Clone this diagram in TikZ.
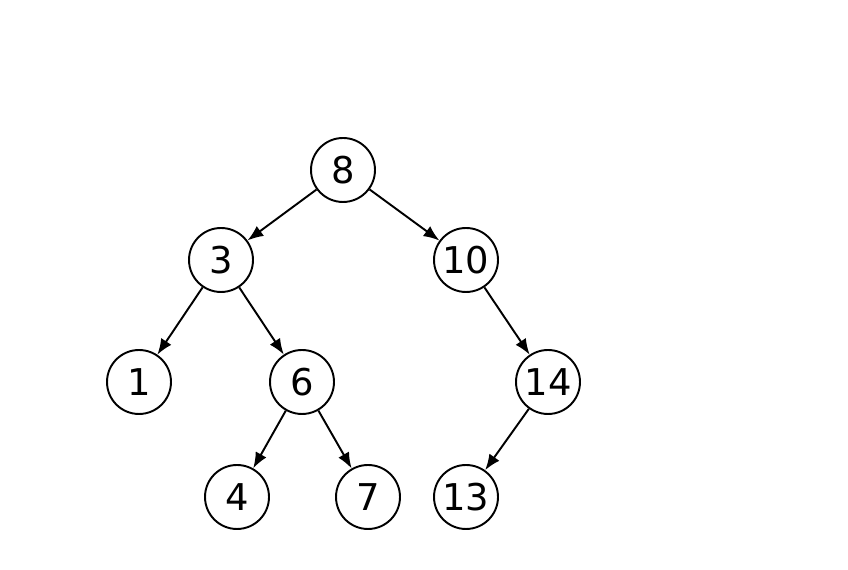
\documentclass[tikz,border=0pt]{standalone}
\usepackage{fontspec}
\setmainfont{DejaVu Sans}
\usetikzlibrary{arrows.meta}
\begin{document}
\begin{tikzpicture}[x=0.02cm,y=0.02cm,
    key/.style={circle, draw, line width=1.1pt, minimum size=1.28cm, inner sep=0pt, font=\fontsize{21}{24}\selectfont},
    edge/.style={line width=1.1pt, -{Latex[length=9pt,width=7pt]}}]
    \useasboundingbox (0,0) rectangle (848,570);
    % Knoten
    \node[key] (n8) at (343,400) {8};
    \node[key] (n3) at (221,310) {3};
    \node[key] (n10) at (466,310) {10};
    \node[key] (n1) at (139,188) {1};
    \node[key] (n6) at (302,188) {6};
    \node[key] (n14) at (548,188) {14};
    \node[key] (n4) at (237,73) {4};
    \node[key] (n7) at (368,73) {7};
    \node[key] (n13) at (466,73) {13};

    % Kanten
    \draw[edge] (n8) -- (n3);
    \draw[edge] (n8) -- (n10);
    \draw[edge] (n3) -- (n1);
    \draw[edge] (n3) -- (n6);
    \draw[edge] (n10) -- (n14);
    \draw[edge] (n6) -- (n4);
    \draw[edge] (n6) -- (n7);
    \draw[edge] (n14) -- (n13);
\end{tikzpicture}
\end{document}
